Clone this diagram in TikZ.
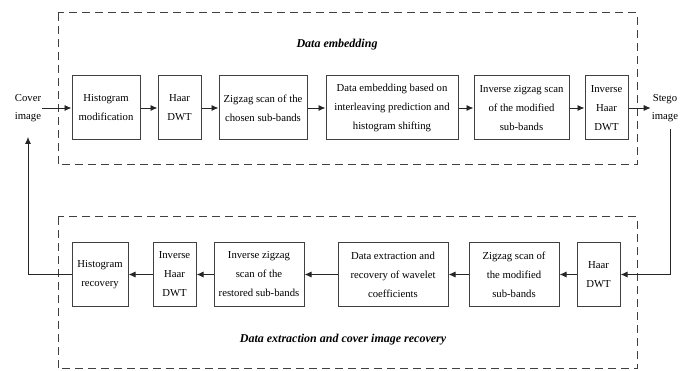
\documentclass[tikz,border=0pt]{standalone}
\usepackage{fontspec}
\setmainfont{Liberation Serif}
\usepackage{tikz}
\usetikzlibrary{arrows.meta,positioning,calc}

\begin{document}
\begin{tikzpicture}[
  x=1pt,y=1pt,
  node distance=16pt,
  box/.style={draw=black!75,line width=1pt,align=center,inner sep=2pt,font=\fontsize{10.7}{19}\selectfont,minimum height=64pt},
  frame/.style={draw=black!75,line width=1pt,dash pattern=on 8pt off 5pt},
  ttl/.style={font=\fontsize{12}{14}\selectfont\bfseries\itshape},
  lbl/.style={align=center,inner sep=1pt,font=\fontsize{10.7}{18}\selectfont},
  arr/.style={-{Latex[length=7pt,width=6pt]},line width=0.9pt,black!85}
]
\useasboundingbox (0,0) rectangle (691,-371);
% dashed frames
\draw[frame] (58,-13) rectangle (637,-165);
\draw[frame] (58,-217) rectangle (637,-369);
\node[ttl] (t1) at (337,-45) {Data embedding};
\node[ttl] (t2) at (343,-340) {Data extraction and cover image recovery};
% embedding row
\node[box,minimum width=68pt] (e1) at (106,-108) {Histogram\\modification};
\node[box,minimum width=43pt,right=17pt of e1] (e2) {Haar\\DWT};
\node[box,minimum width=88pt,right=17pt of e2] (e3) {Zigzag scan of the\\chosen sub-bands};
\node[box,minimum width=132pt,right=18pt of e3] (e4) {Data embedding based on\\interleaving prediction and\\histogram shifting};
\node[box,minimum width=95pt,right=15pt of e4] (e5) {Inverse zigzag scan\\of the modified\\sub-bands};
\node[box,minimum width=43pt,right=15pt of e5] (e6) {Inverse\\Haar\\DWT};
\node[lbl] (cover) at (28,-108) {Cover\\image};
\node[lbl] (stego) at (665,-108) {Stego\\image};
% extraction row
\node[box,minimum width=43pt] (x1) at (598.5,-274.5) {Haar\\DWT};
\node[box,minimum width=90pt,left=17pt of x1] (x2) {Zigzag scan of\\the modified\\sub-bands};
\node[box,minimum width=110pt,left=20pt of x2] (x3) {Data extraction and\\recovery of wavelet\\coefficients};
\node[box,minimum width=90pt,left=33pt of x3] (x4) {Inverse zigzag\\scan of the\\restored sub-bands};
\node[box,minimum width=43pt,left=17pt of x4] (x5) {Inverse\\Haar\\DWT};
\node[box,minimum width=56pt,left=24pt of x5] (x6) {Histogram\\recovery};
% connectors
\draw[arr] (cover) -- (e1);
\draw[arr] (e1) -- (e2);
\draw[arr] (e2) -- (e3);
\draw[arr] (e3) -- (e4);
\draw[arr] (e4) -- (e5);
\draw[arr] (e5) -- (e6);
\draw[arr] (e6) -- (stego);
\draw[arr,shorten <=6pt] ([xshift=5pt]stego.south) |- (x1.east);
\draw[arr] (x1) -- (x2);
\draw[arr] (x2) -- (x3);
\draw[arr] (x3) -- (x4);
\draw[arr] (x4) -- (x5);
\draw[arr] (x5) -- (x6);
\draw[arr,shorten >=14pt] (x6.west) -| (cover.south);
\end{tikzpicture}
\end{document}
